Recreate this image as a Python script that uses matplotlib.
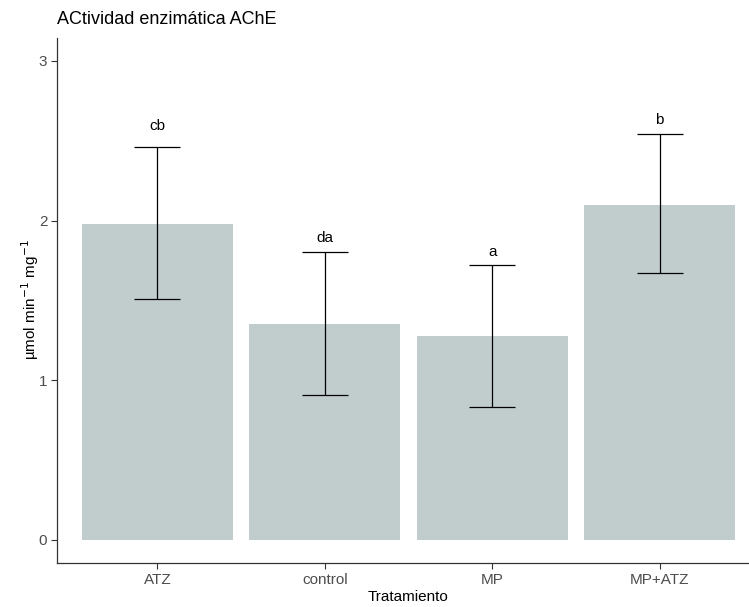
import matplotlib
matplotlib.use("Agg")
import matplotlib.pyplot as plt
import numpy as np

categories = ["ATZ", "control", "MP", "MP+ATZ"]
means = [1.98, 1.35, 1.28, 2.10]
err_upper = [2.46, 1.80, 1.72, 2.54]
err_lower = [1.51, 0.91, 0.83, 1.67]
letters = ["cb", "da", "a", "b"]
letter_y = [2.59, 1.89, 1.80, 2.63]

plt.rcParams['font.family'] = ['Liberation Sans', 'DejaVu Sans']

W, H = 749, 607
fig = plt.figure(figsize=(W / 100, H / 100), dpi=100)
ax = fig.add_axes([57 / W, (H - 563.3) / H, (760 - 57) / W, (563.3 - 38) / H])

x = np.arange(1, len(categories) + 1)
ax.bar(x, means, width=0.9, color="#C1CDCD", zorder=1)
means_a = np.array(means)
yerr = np.vstack([means_a - np.array(err_lower), np.array(err_upper) - means_a])
ax.errorbar(x, means, yerr=yerr, fmt="none", ecolor="black", elinewidth=0.9,
            capsize=16.5, capthick=0.9, zorder=2)
for xi, lab, ly in zip(x, letters, letter_y):
    ax.text(xi, ly, lab, ha="center", va="center", fontsize=11, color="black")

ax.set_xlim(0.4, 4.6)
ax.set_ylim(-0.146, 3.143)
ax.set_xticks(x)
ax.set_xticklabels(categories)
ax.set_yticks([0, 1, 2, 3])
ax.set_yticklabels(["0", "1", "2", "3"])
for s in ["top", "right"]:
    ax.spines[s].set_visible(False)
for s in ["left", "bottom"]:
    ax.spines[s].set_color("#333333")
    ax.spines[s].set_linewidth(0.9)
ax.tick_params(axis="both", colors="#333333", labelcolor="#4D4D4D",
               labelsize=11, length=4, width=0.8, pad=3)

fig.text(408 / W, 1 - 597 / H, "Tratamiento", ha="center", va="center",
         fontsize=11, color="black")
fig.text(30 / W, 1 - 300 / H, r"µmol min$^{-1}$ mg$^{-1}$", ha="center",
         va="center", rotation=90, fontsize=11, color="black")
fig.text(57 / W, 1 - 20 / H, "ACtividad enzimática AChE", ha="left",
         va="center", fontsize=13, color="black")

fig.savefig("out.png", dpi=100)
